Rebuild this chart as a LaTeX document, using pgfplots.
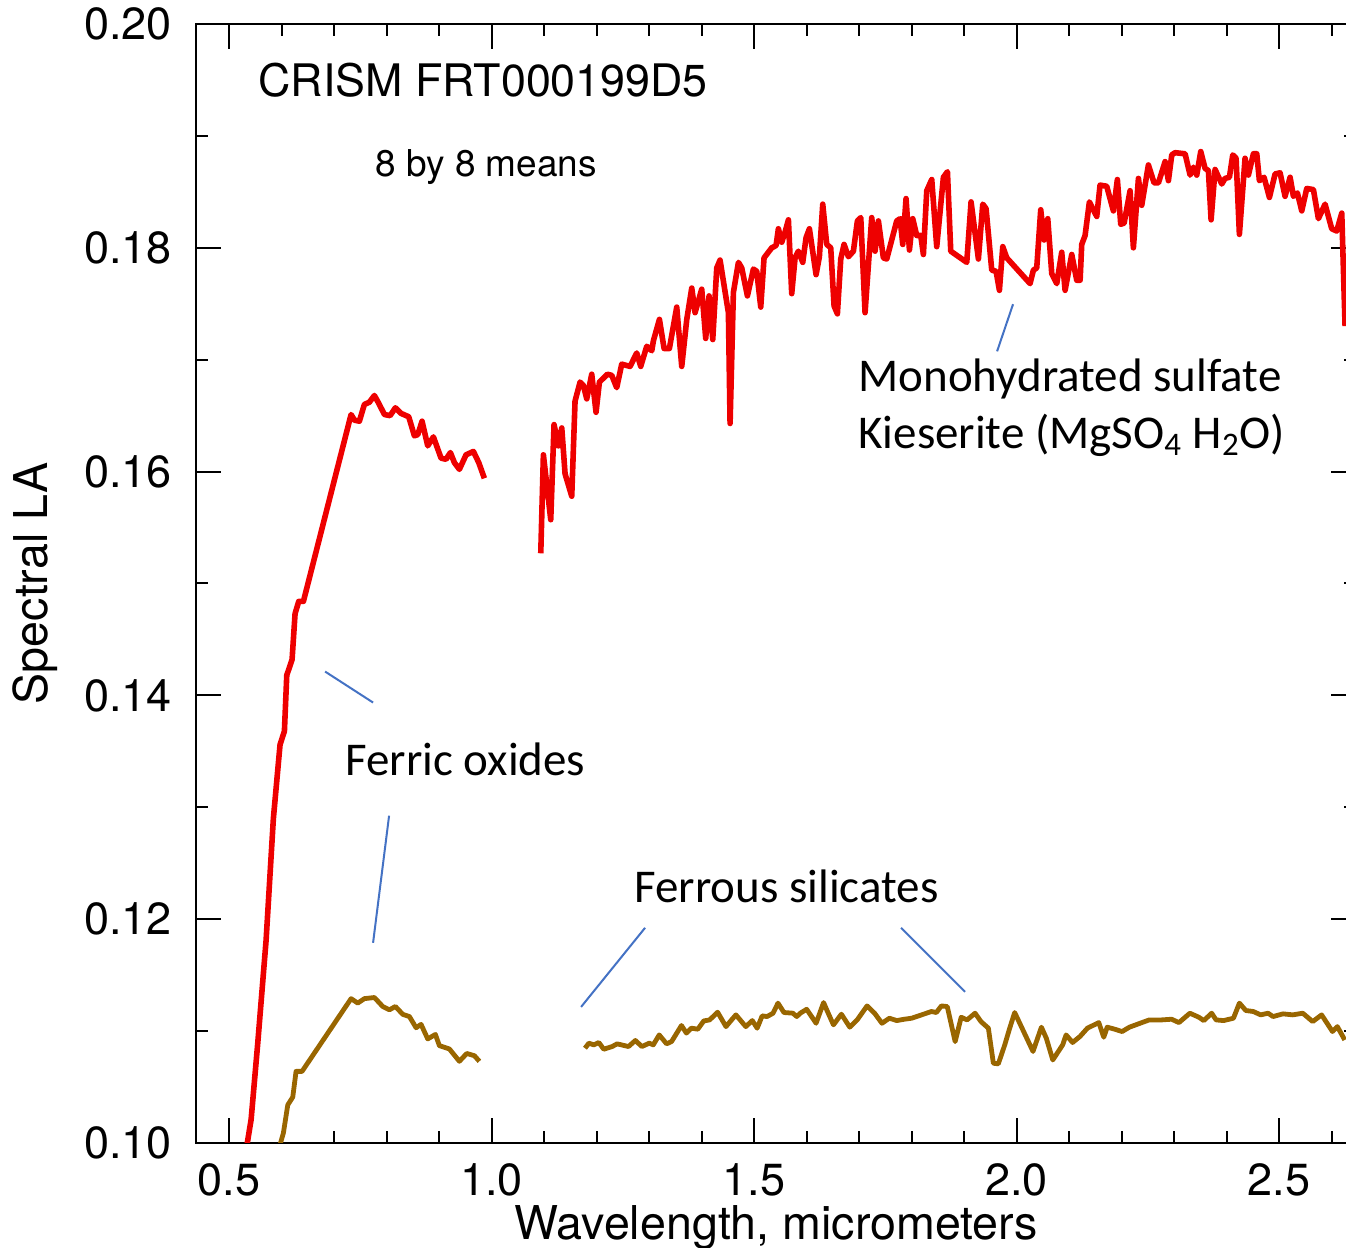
\documentclass[border=0pt]{standalone}
\usepackage{fontspec}
\setmainfont{TeX Gyre Heros}
\newfontfamily\calibri{Carlito}
\usepackage{pgfplots}
\pgfplotsset{compat=1.18}
\definecolor{specred}{RGB}{238,0,0}
\definecolor{specbrown}{RGB}{153,102,0}
\definecolor{annblue}{RGB}{68,114,196}

\begin{document}
\begin{tikzpicture}
  \begin{axis}[
      scale only axis,
      width=580pt, height=559.5pt,
      xmin=0.437, xmax=2.6465,
      ymin=0.10, ymax=0.20,
      xtick={0.5,1.0,1.5,2.0,2.5},
      minor xtick={0.6,0.7,0.8,0.9,1.1,1.2,1.3,1.4,1.6,1.7,1.8,1.9,2.1,2.2,2.3,2.4,2.6},
      ytick={0.10,0.12,0.14,0.16,0.18,0.20},
      minor ytick={0.11,0.13,0.15,0.17,0.19},
      tick align=inside,
      major tick length=12.5pt,
      minor tick length=6pt,
      axis line style={line width=1pt},
      every tick/.style={black, line width=1pt},
      /pgf/number format/assume math mode=true,
      xticklabel style={font=\fontsize{22.5}{26}\selectfont, inner sep=0pt, yshift=-10pt,
        /pgf/number format/.cd, fixed, fixed zerofill, precision=1},
      yticklabel style={font=\fontsize{22.5}{26}\selectfont, inner sep=0pt, xshift=-12pt,
        /pgf/number format/.cd, fixed, fixed zerofill, precision=2},
      scaled ticks=false,
      xlabel={Wavelength, micrometers},
      ylabel={Spectral LA},
      every axis x label/.style={at={([yshift=-48.5pt]axis cs:1.542,0.10)}, anchor=base,
        font=\fontsize{23.3}{27}\selectfont},
      every axis y label/.style={at={([xshift=-74pt]rel axis cs:0,0.5)}, anchor=base, rotate=90,
        font=\fontsize{23.3}{27}\selectfont},
    ]

    % red spectrum, short wavelengths
    \addplot[specred, line width=2.8pt, line join=round] coordinates {
      (0.533,0.0995) (0.542,0.1021) (0.5546,0.1089) (0.5705,0.1181) (0.5844,0.1290)
      (0.5971,0.1356) (0.6054,0.1368) (0.6099,0.1418) (0.6200,0.1432) (0.6257,0.1473)
      (0.6327,0.1484) (0.6416,0.1484) (0.7324,0.1651) (0.7387,0.1646) (0.7482,0.1645)
      (0.7577,0.1660) (0.7673,0.1662) (0.7768,0.1668) (0.7851,0.1661) (0.7959,0.1651)
      (0.8067,0.1650) (0.8168,0.1657) (0.8276,0.1652) (0.8422,0.1649) (0.8530,0.1632)
      (0.8594,0.1633) (0.8676,0.1645) (0.8784,0.1623) (0.8892,0.1631) (0.9038,0.1612)
      (0.9133,0.1611) (0.9216,0.1617) (0.9292,0.1608) (0.9387,0.1602) (0.9514,0.1615)
      (0.9654,0.1618) (0.9756,0.1608) (0.9863,0.1594)
    };
    % red spectrum, long wavelengths
    \addplot[specred, line width=2.8pt, line join=round] coordinates {
      (1.0937,0.1527) (1.0987,0.1615) (1.1127,0.1557) (1.1190,0.1642) (1.1273,0.1623)
      (1.1337,0.1639) (1.1400,0.1598) (1.1527,0.1578) (1.1590,0.1663) (1.1686,0.1680)
      (1.1749,0.1677) (1.1813,0.1665) (1.1908,0.1687) (1.1990,0.1653) (1.2054,0.1680)
      (1.2206,0.1687) (1.2289,0.1686) (1.2384,0.1675) (1.2479,0.1696) (1.2638,0.1694)
      (1.2765,0.1706) (1.2841,0.1694) (1.2956,0.1712) (1.3051,0.1708) (1.3083,0.1717)
      (1.3197,0.1736) (1.3286,0.1710) (1.3387,0.1710) (1.3527,0.1747) (1.3622,0.1694)
      (1.3718,0.1736) (1.3813,0.1764) (1.3876,0.1742) (1.4003,0.1763) (1.4079,0.1719)
      (1.4143,0.1757) (1.4213,0.1718) (1.4289,0.1782) (1.4352,0.1789) (1.4511,0.1742)
      (1.4543,0.1643) (1.4606,0.1760) (1.4702,0.1787) (1.4765,0.1782) (1.4873,0.1757)
      (1.4987,0.1781) (1.5051,0.1779) (1.5127,0.1747) (1.5190,0.1791) (1.5337,0.1800)
      (1.5419,0.1802) (1.5463,0.1817) (1.5527,0.1805) (1.5590,0.1814) (1.5654,0.1825)
      (1.5717,0.1759) (1.5781,0.1791) (1.5844,0.1797) (1.5927,0.1787) (1.5990,0.1809)
      (1.6054,0.1817) (1.6181,0.1776) (1.6244,0.1792) (1.6308,0.1839) (1.6384,0.1803)
      (1.6460,0.1800) (1.6524,0.1748) (1.6587,0.1741) (1.6651,0.1790) (1.6714,0.1803)
      (1.6797,0.1792) (1.6892,0.1797) (1.6968,0.1824) (1.7032,0.1827) (1.7114,0.1742)
      (1.7241,0.1827) (1.7305,0.1797) (1.7368,0.1824) (1.7463,0.1791) (1.7527,0.1790)
      (1.7717,0.1824) (1.7781,0.1826) (1.7832,0.1803) (1.7895,0.1844) (1.7959,0.1798)
      (1.8022,0.1826) (1.8098,0.1811) (1.8175,0.1811) (1.8225,0.1794) (1.8289,0.1851)
      (1.8384,0.1861) (1.8479,0.1801) (1.8606,0.1863) (1.8683,0.1868) (1.8746,0.1797)
      (1.9051,0.1787) (1.9133,0.1841) (1.9273,0.1790) (1.9356,0.1839) (1.9419,0.1835)
      (1.9527,0.1780) (1.9610,0.1779) (1.9673,0.1762) (1.9737,0.1801) (1.9813,0.1791)
      (2.0257,0.1768) (2.0320,0.1780) (2.0384,0.1782) (2.0460,0.1834) (2.0524,0.1807)
      (2.0594,0.1826) (2.0670,0.1777) (2.0765,0.1768) (2.0860,0.1796) (2.0924,0.1762)
      (2.1051,0.1794) (2.1146,0.1771) (2.1210,0.1771) (2.1241,0.1803) (2.1305,0.1811)
      (2.1387,0.1841) (2.1451,0.1835) (2.1527,0.1828) (2.1590,0.1856) (2.1717,0.1855)
      (2.1844,0.1833) (2.1920,0.1861) (2.1984,0.1821) (2.2048,0.1822) (2.2162,0.1851)
      (2.2225,0.1800) (2.2321,0.1862) (2.2384,0.1838) (2.2511,0.1874) (2.2619,0.1858)
      (2.2702,0.1858) (2.2829,0.1877) (2.2892,0.1860) (2.2956,0.1883) (2.3019,0.1885)
      (2.3210,0.1884) (2.3305,0.1865) (2.3368,0.1872) (2.3432,0.1865) (2.3508,0.1886)
      (2.3590,0.1871) (2.3654,0.1869) (2.3705,0.1825) (2.3781,0.1870) (2.3908,0.1857)
      (2.3971,0.1862) (2.4054,0.1863) (2.4118,0.1883) (2.4181,0.1880) (2.4244,0.1812)
      (2.4352,0.1880) (2.4416,0.1865) (2.4511,0.1884) (2.4575,0.1884) (2.4625,0.1860)
      (2.4714,0.1863) (2.4816,0.1845) (2.4924,0.1866) (2.5019,0.1867) (2.5114,0.1846)
      (2.5210,0.1863) (2.5273,0.1846) (2.5349,0.1849) (2.5432,0.1833) (2.5527,0.1853)
      (2.5654,0.1852) (2.5749,0.1826) (2.5876,0.1839) (2.6003,0.1817) (2.6098,0.1815)
      (2.6194,0.1831) (2.6257,0.1730)
    };
    % brown spectrum, short wavelengths
    \addplot[specbrown, line width=2.4pt, line join=round] coordinates {
      (0.595,0.0995) (0.6035,0.1009) (0.6118,0.1034) (0.6213,0.1041) (0.6276,0.1064)
      (0.6390,0.1064) (0.7324,0.1129) (0.7451,0.1125) (0.7577,0.1129) (0.7768,0.1130)
      (0.7927,0.1122) (0.8054,0.1119) (0.8168,0.1122) (0.8308,0.1115) (0.8435,0.1113)
      (0.8562,0.1103) (0.8657,0.1106) (0.8784,0.1093) (0.8930,0.1097) (0.9006,0.1087)
      (0.9197,0.1084) (0.9387,0.1073) (0.9527,0.1080) (0.9673,0.1078) (0.9768,0.1073)
    };
    % brown spectrum, long wavelengths
    \addplot[specbrown, line width=2.4pt, line join=round] coordinates {
      (1.1779,0.10847) (1.1853,0.10892) (1.1948,0.10877) (1.2042,0.10898) (1.2137,0.10838)
      (1.2297,0.10862) (1.2391,0.10886) (1.2608,0.10862) (1.2739,0.10916) (1.2863,0.10862)
      (1.3004,0.10892) (1.3080,0.10877) (1.3193,0.10966) (1.3334,0.10886) (1.3429,0.10907)
      (1.3617,0.11050) (1.3711,0.10982) (1.3806,0.11026) (1.3928,0.11017) (1.4042,0.11091)
      (1.4154,0.11100) (1.4305,0.11169) (1.4465,0.11040) (1.4560,0.11094) (1.4654,0.11145)
      (1.4842,0.11040) (1.4966,0.11094) (1.5059,0.11026) (1.5154,0.11136) (1.5248,0.11130)
      (1.5362,0.11160) (1.5455,0.11250) (1.5569,0.11166) (1.5739,0.11160) (1.5813,0.11130)
      (1.5880,0.11160) (1.6002,0.11195) (1.6181,0.11070) (1.6324,0.11255) (1.6398,0.11175)
      (1.6512,0.11056) (1.6663,0.11151) (1.6823,0.11035) (1.6964,0.11100) (1.7152,0.11225)
      (1.7295,0.11160) (1.7436,0.11070) (1.7577,0.11115) (1.7718,0.11094) (1.7861,0.11106)
      (1.8002,0.11115) (1.8190,0.11145) (1.8379,0.11175) (1.8472,0.11166) (1.8568,0.11225)
      (1.8680,0.11219) (1.8830,0.10906) (1.8945,0.11124) (1.9057,0.11100) (1.9209,0.11160)
      (1.9322,0.11085) (1.9463,0.11026) (1.9558,0.10713) (1.9652,0.10707) (1.9775,0.10877)
      (1.9869,0.11026) (1.9964,0.11166) (2.0313,0.10818) (2.0473,0.11035) (2.0566,0.10937)
      (2.0690,0.10742) (2.0878,0.10877) (2.0943,0.10966) (2.1067,0.10898) (2.1208,0.10952)
      (2.1349,0.11026) (2.1566,0.11076) (2.1661,0.10945) (2.1726,0.11035) (2.1869,0.11017)
      (2.2010,0.10996) (2.2150,0.11035) (2.2387,0.11076) (2.2528,0.11100) (2.2764,0.11100)
      (2.2952,0.11106) (2.3093,0.11076) (2.3301,0.11160) (2.3471,0.11124) (2.3566,0.11094)
      (2.3716,0.11160) (2.3800,0.11100) (2.3943,0.11094) (2.4131,0.11115) (2.4244,0.11250)
      (2.4366,0.11184) (2.4509,0.11175) (2.4650,0.11145) (2.4790,0.11160) (2.4886,0.11130)
      (2.5074,0.11154) (2.5263,0.11145) (2.5451,0.11160) (2.5640,0.11085) (2.5810,0.11145)
      (2.6017,0.10996) (2.6110,0.11040) (2.6251,0.10921)
    };

    % titles
    \node[anchor=base west, inner sep=0pt, font=\fontsize{22.4}{26}\selectfont]
      at (axis cs:0.555,0.19356) {CRISM FRT000199D5};
    \node[anchor=base west, inner sep=0pt, font=\fontsize{18.5}{22}\selectfont]
      at (axis cs:0.778,0.18640) {8 by 8 means};

    % annotations
    \node[anchor=base west, inner sep=0pt, font=\calibri\fontsize{23.5}{28}\selectfont]
      at (axis cs:1.698,0.16717) {Monohydrated sulfate};
    \node[anchor=base west, inner sep=0pt, font=\calibri\fontsize{23.5}{28}\selectfont]
      at (axis cs:1.698,0.16208) {Kieserite (MgSO\textsubscript{4} H\textsubscript{2}O)};
    \node[anchor=base west, inner sep=0pt, font=\calibri\fontsize{23.5}{28}\selectfont]
      at (axis cs:0.721,0.13283) {Ferric oxides};
    \node[anchor=base west, inner sep=0pt, font=\calibri\fontsize{23.5}{28}\selectfont]
      at (axis cs:1.2714,0.12147) {Ferrous silicates};

    \draw[annblue, line width=1pt] (axis cs:0.6829,0.14213) -- (axis cs:0.7743,0.13936);
    \draw[annblue, line width=1pt] (axis cs:0.8048,0.12925) -- (axis cs:0.7743,0.11789);
    \draw[annblue, line width=1pt] (axis cs:1.2924,0.11923) -- (axis cs:1.1705,0.11216);
    \draw[annblue, line width=1pt] (axis cs:1.7800,0.11923) -- (axis cs:1.9019,0.11351);
    \draw[annblue, line width=1pt] (axis cs:1.9933,0.17496) -- (axis cs:1.9629,0.17075);
  \end{axis}
  \pgfresetboundingbox
  \path[use as bounding box] (-98pt,-52.5pt) rectangle (575pt,571.5pt);
\end{tikzpicture}
\end{document}
